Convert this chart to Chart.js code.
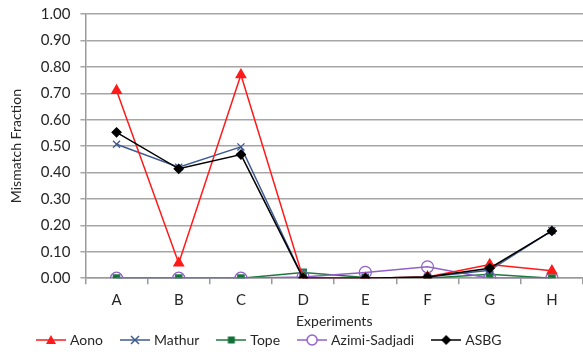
<!DOCTYPE html>
<html>
<head>
<meta charset="utf-8">
<script src="https://cdn.jsdelivr.net/npm/chart.js@4/dist/chart.umd.min.js"></script>
<style>
  html, body { margin: 0; padding: 0; background: #fff; }
  #wrap { width: 583px; height: 352px; position: relative; }
</style>
</head>
<body>
<div id="wrap"><canvas id="c"></canvas></div>
<script>
// Experiment categories
const experiments = ['A', 'B', 'C', 'D', 'E', 'F', 'G', 'H'];

// Mismatch fraction per method
const aono         = [0.71, 0.057, 0.77, 0.0, 0.0, 0.005, 0.052, 0.028];
const mathur       = [0.507, 0.42, 0.497, 0.0, 0.0, 0.005, 0.03, 0.18];
const tope         = [0.0, 0.0, 0.0, 0.022, 0.003, 0.0, 0.015, 0.0];
const azimiSadjadi = [0.0, 0.0, 0.0, 0.005, 0.022, 0.043, 0.0, 0.0];
const asbg         = [0.552, 0.414, 0.468, 0.0, 0.0, 0.005, 0.038, 0.179];

const FONT = 'Lato, "Open Sans", sans-serif';
const TEXT = '#262626';

const series = [
  { label: 'Aono', data: aono, color: '#ff1a1a', fill: '#ff1a1a', style: 'triangle', radius: 5.5, order: 1 },
  { label: 'Mathur', data: mathur, color: '#3f5a93', fill: 'transparent', style: 'crossRot', radius: 5, order: 2 },
  { label: 'Tope', data: tope, color: '#1e7a3c', fill: '#137038', style: 'rect', radius: 4.5, order: 4 },
  { label: 'Azimi-Sadjadi', data: azimiSadjadi, color: '#9160c8', fill: 'transparent', style: 'circle', radius: 6, order: 3 },
  { label: 'ASBG', data: asbg, color: '#000000', fill: '#000000', style: 'rectRot', radius: 4.5, order: 0 }
];

// Small line-with-marker swatches for the legend
function legendSwatch(s) {
  const cv = document.createElement('canvas');
  cv.width = 30; cv.height = 14;
  const g = cv.getContext('2d');
  g.strokeStyle = s.color; g.lineWidth = 1.5;
  g.beginPath(); g.moveTo(0, 7); g.lineTo(30, 7); g.stroke();
  g.fillStyle = s.fill === 'transparent' ? '#fff' : s.fill;
  const cx = 15, cy = 7;
  g.beginPath();
  if (s.style === 'triangle') {
    g.moveTo(cx, cy - 5); g.lineTo(cx + 5, cy + 4); g.lineTo(cx - 5, cy + 4); g.closePath(); g.fill();
  } else if (s.style === 'crossRot') {
    g.moveTo(cx - 4, cy - 4); g.lineTo(cx + 4, cy + 4); g.moveTo(cx + 4, cy - 4); g.lineTo(cx - 4, cy + 4); g.stroke();
  } else if (s.style === 'rect') {
    g.fillStyle = s.fill; g.fillRect(cx - 3.5, cy - 3.5, 7, 7);
  } else if (s.style === 'circle') {
    g.arc(cx, cy, 5, 0, Math.PI * 2); g.fill(); g.stroke();
  } else if (s.style === 'rectRot') {
    g.moveTo(cx, cy - 5); g.lineTo(cx + 5, cy); g.lineTo(cx, cy + 5); g.lineTo(cx - 5, cy); g.closePath(); g.fill();
  }
  return cv;
}

const swatches = series.map(legendSwatch);

// Compact legend row: trim its reserved height and pin its start position
const LEGEND_TRIM = 22;
const legendShift = {
  id: 'legendShift',
  beforeLayout(chart) {
    const lg = chart.legend;
    if (lg && !lg._trimmed) {
      const fit = lg.fit.bind(lg);
      lg.fit = function () { fit(); this.height -= LEGEND_TRIM; };
      lg._trimmed = true;
    }
  },
  afterLayout(chart) {
    const lg = chart.legend;
    if (lg) { lg.left = 19; lg.top -= 17; }
  }
};

new Chart(document.getElementById('c'), {
  type: 'line',
  data: {
    labels: experiments,
    datasets: series.map(s => ({
      label: s.label,
      data: s.data,
      borderColor: s.color,
      backgroundColor: s.fill,
      borderWidth: 1.5,
      pointStyle: s.style,
      pointRadius: s.radius,
      pointBorderColor: s.color,
      pointBackgroundColor: s.fill,
      pointBorderWidth: 1.3,
      tension: 0,
      fill: false,
      order: s.order
    }))
  },
  plugins: [legendShift],
  options: {
    responsive: true,
    maintainAspectRatio: false,
    animation: false,
    layout: { autoPadding: false, padding: { left: 8, right: 0, top: 14, bottom: 0 } },
    plugins: {
      tooltip: { enabled: false },
      legend: {
        position: 'bottom',
        align: 'start',
        labels: {
          usePointStyle: true,
          pointStyleWidth: 24,
          boxHeight: 14,
          padding: 20,
          color: TEXT,
          font: { family: FONT, size: 14 },
          generateLabels(chart) {
            const items = Chart.defaults.plugins.legend.labels.generateLabels(chart);
            items.sort((a, b) => a.datasetIndex - b.datasetIndex);
            items.forEach(it => { it.pointStyle = swatches[it.datasetIndex]; });
            return items;
          }
        }
      }
    },
    scales: {
      x: {
        offset: true,
        grid: { display: true, offset: true, drawOnChartArea: false, drawTicks: true, tickLength: 6, color: '#9a9a9a', lineWidth: 1.5 },
        border: { color: '#9a9a9a', width: 1.5 },
        ticks: { color: TEXT, font: { family: FONT, size: 15 }, padding: 7 },
        title: { display: true, text: 'Experiments', color: TEXT, font: { family: FONT, size: 14 }, padding: { top: -3, bottom: 0 } }
      },
      y: {
        min: 0, max: 1,
        afterFit(scale) { scale.paddingTop = 0; },
        ticks: { stepSize: 0.1, color: TEXT, font: { family: FONT, size: 15 }, padding: 10,
                 callback: v => v.toFixed(2) },
        grid: { color: '#a6a6a6', lineWidth: 1.5, tickLength: 5 },
        border: { color: '#9a9a9a', width: 1.5 },
        title: { display: true, text: 'Mismatch Fraction', color: TEXT, font: { family: FONT, size: 14 }, padding: { top: 0, bottom: 6 } }
      }
    }
  }
});
</script>
</body>
</html>
